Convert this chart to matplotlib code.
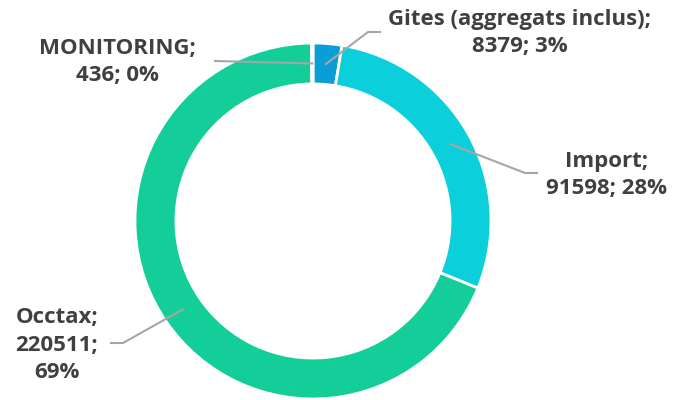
import numpy as np
import matplotlib.pyplot as plt

plt.rcParams['font.family'] = ['Open Sans', 'DejaVu Sans']

categories = ["Gites (aggregats inclus)", "Import", "Occtax", "MONITORING"]
values = [8379, 91598, 220511, 436]
pct_labels = ["3%", "28%", "69%", "0%"]
colors = ["#0b9dd6", "#0bcfdb", "#13ce98", "#7f7f7f"]

W, H = 677, 400
cx, cy, R = 313, 221, 178

fig = plt.figure(figsize=(W / 100, H / 100), dpi=100)
ax = fig.add_axes([(cx - R) / W, (H - cy - R) / H, 2 * R / W, 2 * R / H])

wedges, _ = ax.pie(values, colors=colors, startangle=90, counterclock=False, radius=1,
                   wedgeprops=dict(width=0.23, edgecolor='white', linewidth=2))
ax.set_xlim(-1, 1)
ax.set_ylim(-1, 1)
ax.axis('off')


def to_data(x, y):
    return (x - cx) / R, (cy - y) / R


# label layout in pixels: text centre, leader elbow, leader end
layout = {
    "Gites (aggregats inclus)": ((520, 33), (368, 32), (380, 32)),
    "Import": ((607, 175), (525, 173), (537, 173)),
    "Occtax": ((57, 345), (123, 343), (111, 343)),
    "MONITORING": ((117, 62), None, (215, 61)),
}

for w, name, val, pct in zip(wedges, categories, values, pct_labels):
    ang = np.deg2rad((w.theta1 + w.theta2) / 2)
    ax_pt = (0.885 * np.cos(ang), 0.885 * np.sin(ang))
    (tx, ty), elbow, end = layout[name]
    pts = [ax_pt]
    if elbow is not None:
        pts.append(to_data(*elbow))
    pts.append(to_data(*end))
    xs, ys = zip(*pts)
    ax.plot(xs, ys, color='#a6a6a6', lw=1.5, clip_on=False, zorder=5)
    if name == "Occtax":
        txt = f"{name};\n{val};\n{pct}"
    else:
        txt = f"{name};\n{val}; {pct}"
    ax.text(*to_data(tx, ty), txt, ha='center', va='center', multialignment='center',
            fontsize=16, fontweight='bold', color='#404040', linespacing=1.38)

fig.savefig("out.png", dpi=100)
